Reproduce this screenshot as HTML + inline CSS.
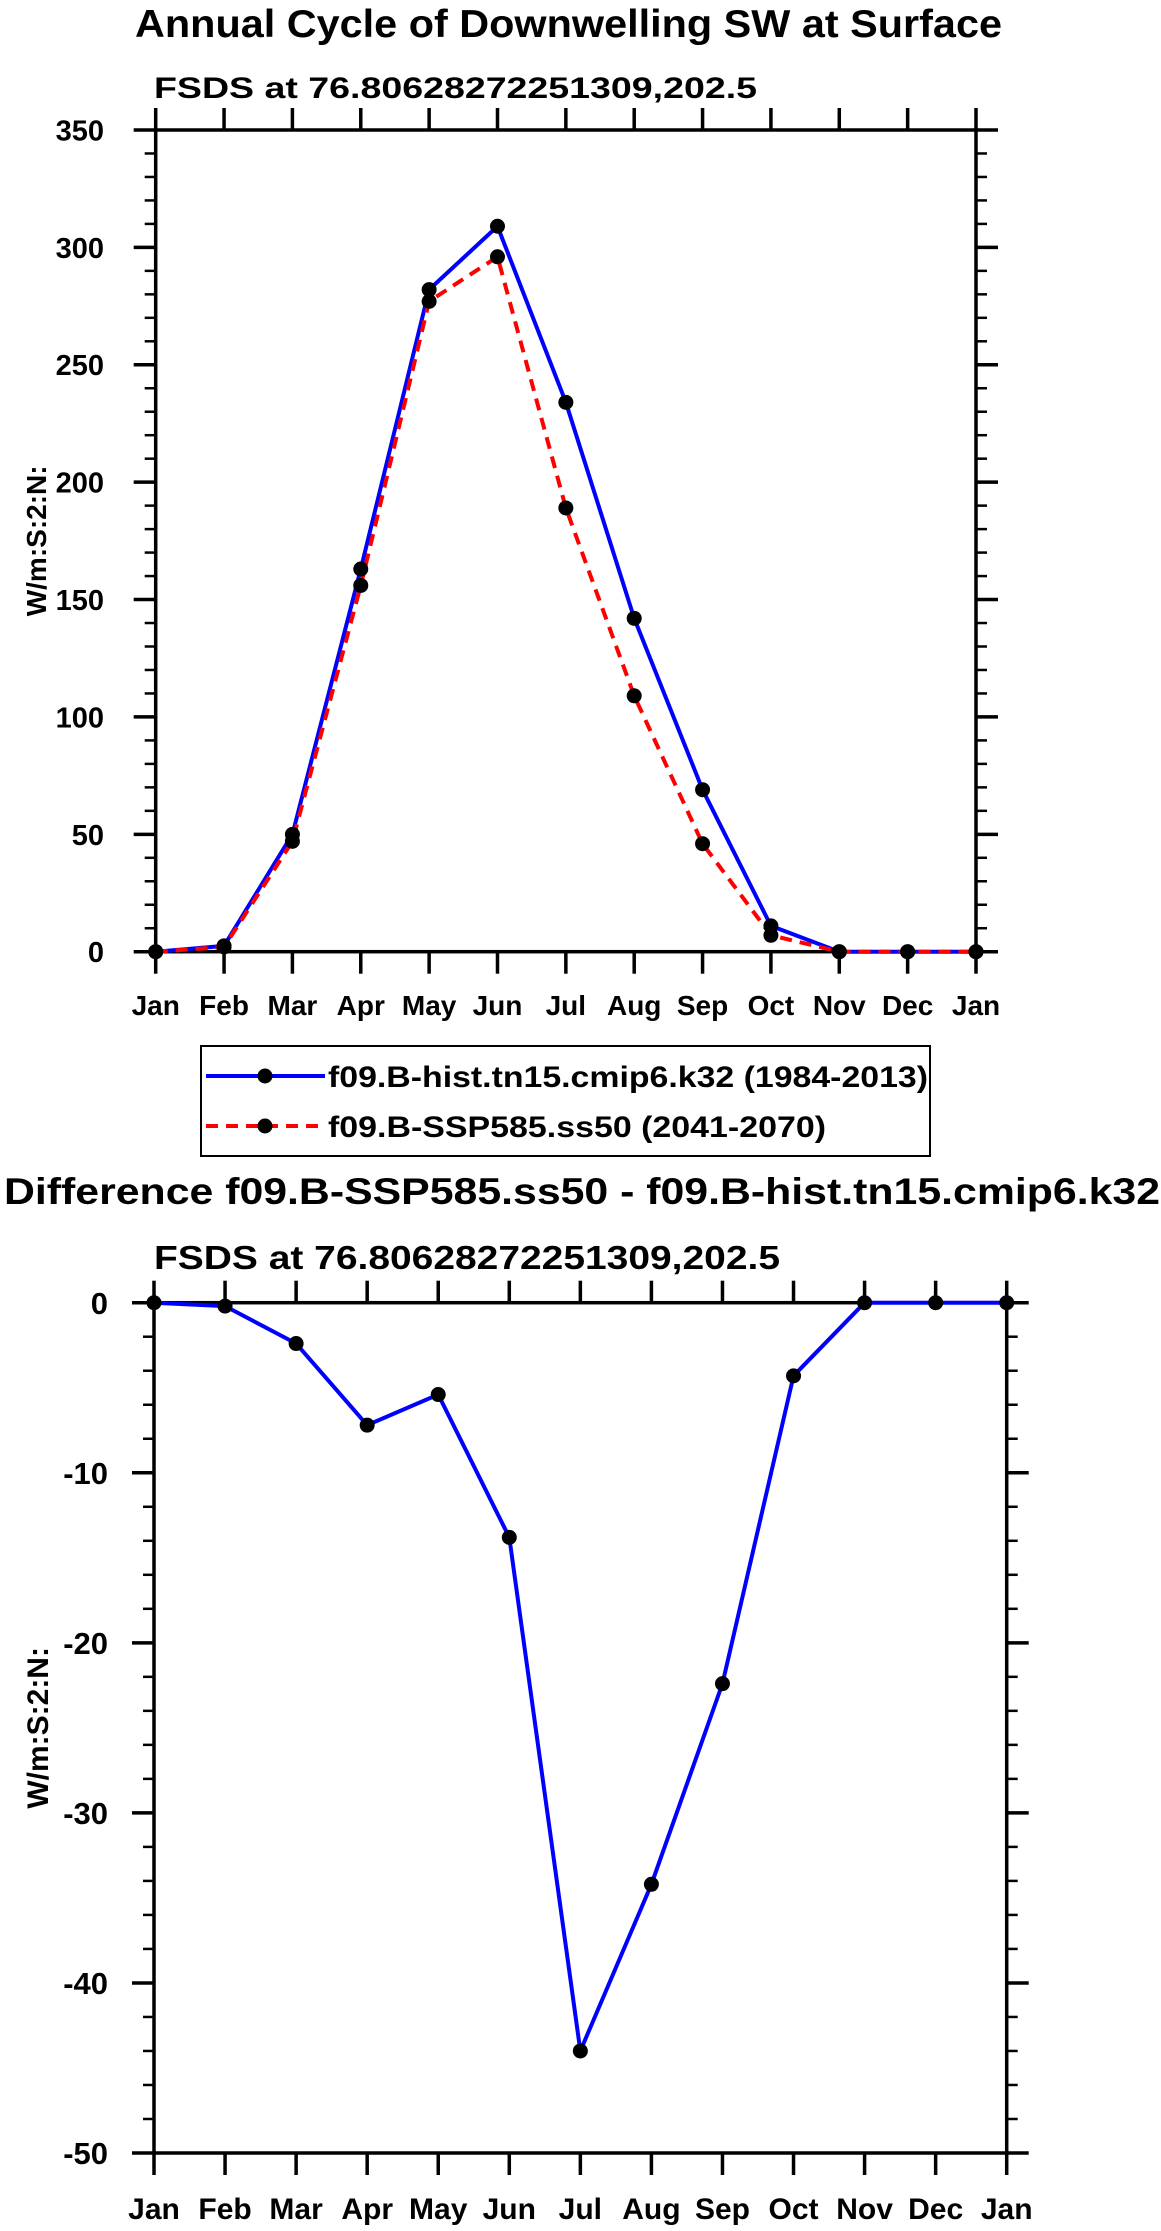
<!DOCTYPE html>
<html><head><meta charset="utf-8"><style>
html,body{margin:0;padding:0;background:#fff;}
svg{display:block;}
text{font-family:"Liberation Sans",sans-serif;font-weight:bold;fill:#000;}
</style></head><body>
<svg id="c" width="1161" height="2231" xmlns="http://www.w3.org/2000/svg">
<text x="135" y="37" font-size="39" textLength="867" lengthAdjust="spacingAndGlyphs">Annual Cycle of Downwelling SW at Surface</text>
<text x="154" y="98" font-size="30" textLength="603" lengthAdjust="spacingAndGlyphs">FSDS at 76.80628272251309,202.5</text>
<g id="top"></g>
<g>
<rect x="201" y="1046" width="729" height="110" fill="none" stroke="#000" stroke-width="2"/>
<g>
<line x1="206" y1="1076" x2="325" y2="1076" stroke="#0000ff" stroke-width="4"/>
<circle cx="265" cy="1076" r="7.5" fill="#000"/>
<text x="328" y="1087" font-size="30" textLength="600" lengthAdjust="spacingAndGlyphs">f09.B-hist.tn15.cmip6.k32 (1984-2013)</text>
</g>
<g>
<line x1="206" y1="1126" x2="325" y2="1126" stroke="#ff0000" stroke-width="4" stroke-dasharray="12,8"/>
<circle cx="265" cy="1126" r="7.5" fill="#000"/>
<text x="328" y="1137" font-size="30" textLength="498" lengthAdjust="spacingAndGlyphs">f09.B-SSP585.ss50 (2041-2070)</text>
</g>
</g>
<text x="4" y="1204" font-size="37" textLength="1156" lengthAdjust="spacingAndGlyphs">Difference f09.B-SSP585.ss50 - f09.B-hist.tn15.cmip6.k32</text>
<text x="154" y="1269" font-size="33" textLength="626" lengthAdjust="spacingAndGlyphs">FSDS at 76.80628272251309,202.5</text>
<g id="bot"></g>
</svg>
<script>
const months = ["Jan","Feb","Mar","Apr","May","Jun","Jul","Aug","Sep","Oct","Nov","Dec","Jan"];
const histValues = [0, 2.5, 50, 163, 282, 309, 234, 142, 69, 11, 0, 0, 0];
const sspValues = [0, 2, 47, 156, 277, 296, 189, 109, 46, 7, 0, 0, 0];
const diffValues = [0, -0.2, -2.4, -7.2, -5.4, -13.8, -44, -34.2, -22.4, -4.3, 0, 0, 0];
const topTicks = [0, 50, 100, 150, 200, 250, 300, 350];
const botTicks = [0, -10, -20, -30, -40, -50];

const NS = "http://www.w3.org/2000/svg";
function mk(parent, tag, attrs){const e=document.createElementNS(NS,tag);for(const k in attrs)e.setAttribute(k,attrs[k]);parent.appendChild(e);return e;}

function drawChart(g, cfg){
  const X = i => cfg.left + (cfg.right-cfg.left)*i/(months.length-1);
  const Y = v => cfg.bottom - (v-cfg.ymin)/(cfg.ymax-cfg.ymin)*(cfg.bottom-cfg.top);
  for(let v=cfg.ymin; v<=cfg.ymax+1e-9; v+=cfg.minor){
    const y=Y(v);
    mk(g,'line',{x1:cfg.left-11,y1:y,x2:cfg.left,y2:y,stroke:'#000','stroke-width':2.5});
    mk(g,'line',{x1:cfg.right,y1:y,x2:cfg.right+11,y2:y,stroke:'#000','stroke-width':2.5});
  }
  cfg.ticks.forEach(v=>{
    const y=Y(v);
    const t1=mk(g,'line',{x1:cfg.left-22,y1:y,x2:cfg.left,y2:y,stroke:'#000','stroke-width':3.5});
    
    
    mk(g,'line',{x1:cfg.right,y1:y,x2:cfg.right+22,y2:y,stroke:'#000','stroke-width':3.5});
    const t=mk(g,'text',{x:cfg.labelRight,y:y+cfg.yfs*0.36,'font-size':cfg.yfs,'text-anchor':'end'});
    t.textContent=v;
    
    
  });
  months.forEach((m,i)=>{
    const x=X(i);
    mk(g,'line',{x1:x,y1:cfg.top-22,x2:x,y2:cfg.top,stroke:'#000','stroke-width':3.5});
    mk(g,'line',{x1:x,y1:cfg.bottom,x2:x,y2:cfg.bottom+22,stroke:'#000','stroke-width':3.5});
    const t=mk(g,'text',{x:x,y:cfg.monthY,'font-size':cfg.xfs,'text-anchor':'middle'});
    t.textContent=m;
    
    
  });
  const fr=mk(g,'rect',{x:cfg.left,y:cfg.top,width:cfg.right-cfg.left,height:cfg.bottom-cfg.top,fill:'none',stroke:'#000','stroke-width':3.5});
  
  
  const cy=(cfg.top+cfg.bottom)/2;
  const yt=mk(g,'text',{x:0,y:0,'font-size':cfg.tfs,'text-anchor':'middle',transform:`translate(${cfg.titleX},${cy}) rotate(-90)`});
  yt.textContent='W/m:S:2:N:';
  
  
  cfg.series.forEach(s=>{
    const pts=s.values.map((v,i)=>X(i)+','+Y(v)).join(' ');
    const pl=mk(g,'polyline',{points:pts,fill:'none',stroke:s.color,'stroke-width':4,'stroke-dasharray':s.dash||'none','stroke-linejoin':'round'});
    
    
  });
  cfg.series.forEach(s=>{
    s.values.forEach((v,i)=>{
      const c=mk(g,'circle',{cx:X(i),cy:Y(v),r:7.5,fill:'#000'});
      
      
    });
  });
}
drawChart(document.getElementById('top'),{left:155.7,right:976,top:130,bottom:951.7,ymin:0,ymax:350,minor:10,ticks:topTicks,
  labelRight:104,yfs:29,xfs:28,monthY:1015,tfs:28,titleX:46,
  series:[{name:'hist',values:histValues,color:'#0000ff'},{name:'ssp',values:sspValues,color:'#ff0000',dash:'12,8'}]});
drawChart(document.getElementById('bot'),{left:154,right:1006.7,top:1302.7,bottom:2153,ymin:-50,ymax:0,minor:2,ticks:botTicks,
  labelRight:108,yfs:31,xfs:30,monthY:2219,tfs:30,titleX:48,
  series:[{name:'diff',values:diffValues,color:'#0000ff'}]});
</script>
</body></html>
